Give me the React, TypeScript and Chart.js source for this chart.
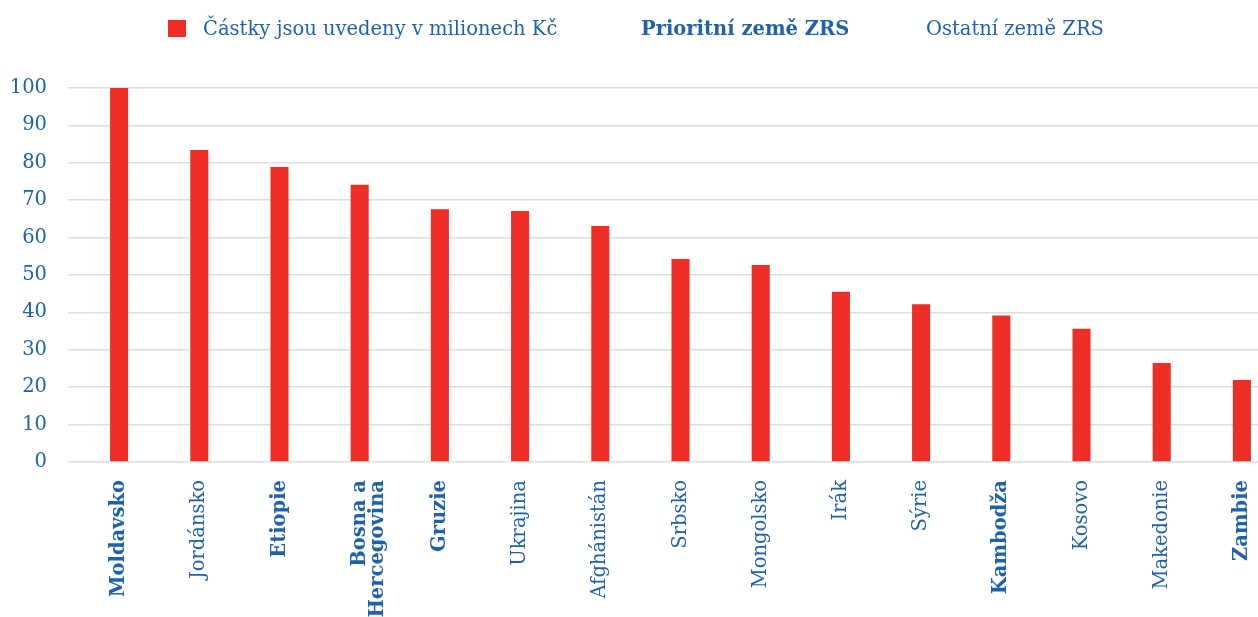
import React, { useEffect, useRef } from "react";
import { Chart, registerables } from "chart.js";

Chart.register(...registerables);

const categories: (string | string[])[] = [
  "Moldavsko",
  "Jordánsko",
  "Etiopie",
  ["Bosna a", "Hercegovina"],
  "Gruzie",
  "Ukrajina",
  "Afghánistán",
  "Srbsko",
  "Mongolsko",
  "Irák",
  "Sýrie",
  "Kambodža",
  "Kosovo",
  "Makedonie",
  "Zambie",
];
const values = [100, 83.4, 78.9, 74.1, 67.6, 67.1, 63.1, 54.3, 52.7, 45.5, 42.2, 39.2, 35.6, 26.5, 21.9];
const priority = [true, false, true, true, true, false, false, false, false, false, false, true, false, false, true];
const legendLabels = ["Částky jsou uvedeny v milionech Kč", "Prioritní země ZRS", "Ostatní země ZRS"];
const yTicks = [0, 10, 20, 30, 40, 50, 60, 70, 80, 90, 100];

const BLUE = "#1E62AC";
const RED = "#EE2E24";
const FONT = "'DejaVu Serif', serif";

const CW = 1290;
const CH = 700;

export default function App() {
  const ref = useRef<HTMLCanvasElement | null>(null);

  useEffect(() => {
    document.body.style.margin = "0";
    const canvas = ref.current!;
    const chart = new Chart(canvas, {
      type: "bar",
      data: {
        labels: categories,
        datasets: [
          {
            label: legendLabels[0],
            data: values,
            backgroundColor: RED,
            borderWidth: 0,
            barPercentage: 0.225,
            categoryPercentage: 1,
          },
        ],
      },
      options: {
        responsive: false,
        animation: false,
        devicePixelRatio: 1,
        layout: { padding: { left: 0, top: 88, right: 8, bottom: 0 } },
        plugins: {
          legend: { display: false },
          tooltip: { enabled: false },
        },
        scales: {
          x: {
            grid: { display: false },
            border: { display: false },
            ticks: {
              color: BLUE,
              maxRotation: 90,
              minRotation: 90,
              padding: 10,
              autoSkip: false,
              font: (ctx: any) => ({
                family: FONT,
                size: 19.5,
                weight: priority[ctx.index] ? "bold" : "normal",
                lineHeight: 0.95,
              }),
            },
            afterFit: (scale: any) => {
              scale.height = CH - 462;
              scale.paddingLeft = 0;
              scale.paddingRight = 0;
            },
          },
          y: {
            min: 0,
            max: 100,
            afterBuildTicks: (scale: any) => {
              scale.ticks = yTicks.map((v) => ({ value: v }));
            },
            afterFit: (scale: any) => {
              scale.width = 79;
            },
            grid: { color: "#dedede", lineWidth: 1.5, tickLength: 11, drawTicks: true },
            border: { display: false },
            ticks: {
              color: BLUE,
              padding: 21,
              font: { family: FONT, size: 19.5 },
            },
          },
        },
      },
    });
    return () => chart.destroy();
  }, []);

  const legendText = (left: number, text: string, bold: boolean) => (
    <div
      style={{
        position: "absolute",
        left,
        top: 17,
        fontFamily: FONT,
        fontSize: 19.5,
        fontWeight: bold ? "bold" : "normal",
        color: BLUE,
        whiteSpace: "nowrap",
        lineHeight: "24px",
      }}
    >
      {text}
    </div>
  );

  return (
    <div style={{ position: "relative", width: 1258, height: 617, overflow: "hidden", background: "#fff" }}>
      <canvas ref={ref} width={CW} height={CH} style={{ position: "absolute", left: 0, top: 0 }} />
      <div style={{ position: "absolute", left: 168, top: 20, width: 18, height: 17, background: RED }} />
      {legendText(203, legendLabels[0], false)}
      {legendText(641, legendLabels[1], true)}
      {legendText(926, legendLabels[2], false)}
    </div>
  );
}
